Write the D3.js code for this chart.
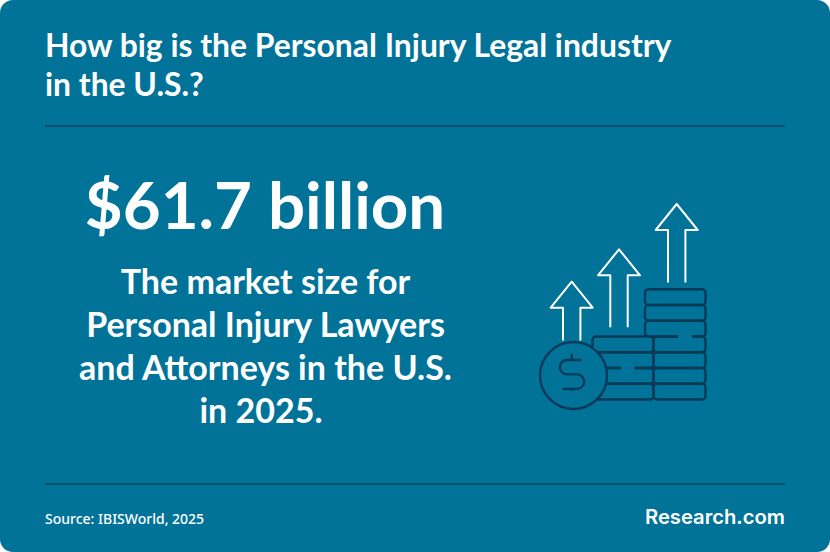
<!DOCTYPE html>
<html>
<head>
<meta charset="utf-8">
<script src="https://cdn.jsdelivr.net/npm/d3@7"></script>
<style>
  html, body { margin: 0; padding: 0; background: #fff; }
  svg { display: block; }
  text { fill: #fff; }
</style>
</head>
<body>
<div id="chart"></div>
<script>
const titleLines = ["How big is the Personal Injury Legal industry", "in the U.S.?"];
const headline = "$61.7 billion";
const subLines = ["The market size for", "Personal Injury Lawyers", "and Attorneys in the U.S.", "in 2025."];
const sourceText = "Source: IBISWorld, 2025";
const brandText = "Research.com";

// coin stacks of the icon: how many coins in each
const stackNames = ["left", "right"];
const stackCoins = [4, 7];
const arrowNames = ["a", "b", "c"];

const width = 830, height = 552;
const bg = "#017399", rule = "#0b4f6c", dark = "#083a57";

const svg = d3.select("#chart").append("svg")
    .attr("width", width)
    .attr("height", height);

svg.append("rect")
    .attr("width", width)
    .attr("height", height)
    .attr("rx", 13)
    .attr("fill", bg);

// header and footer rules
svg.selectAll(".rule")
    .data([126, 484])
    .enter().append("line")
    .attr("class", "rule")
    .attr("x1", 45).attr("x2", 785)
    .attr("y1", d => d).attr("y2", d => d)
    .attr("stroke", rule)
    .attr("stroke-width", 2);

const font = "Lato, sans-serif";

svg.selectAll(".title")
    .data(titleLines)
    .enter().append("text")
    .attr("class", "title")
    .attr("x", 45)
    .attr("y", (d, i) => 57 + i * 39)
    .style("font", "700 31.85px " + font)
    .text(d => d);

svg.append("text")
    .attr("x", 265)
    .attr("y", 229)
    .attr("text-anchor", "middle")
    .style("font", "700 65.4px " + font)
    .text(headline);

// last line sits a little left of centre in the original
svg.selectAll(".sub")
    .data(subLines)
    .enter().append("text")
    .attr("class", "sub")
    .attr("x", (d, i) => i === 3 ? 261 : 265.5)
    .attr("y", (d, i) => 293.5 + i * 43)
    .attr("text-anchor", "middle")
    .style("font", "700 34px " + font)
    .text(d => d);

svg.append("text")
    .attr("x", 45)
    .attr("y", 524)
    .style("font", "500 14px 'Noto Sans', sans-serif")
    .text(sourceText);

svg.append("text")
    .attr("x", 785)
    .attr("y", 524)
    .attr("text-anchor", "end")
    .style("font", "600 20.2px Inter, sans-serif")
    .text(brandText);

// icon
const icon = svg.append("g");
const coinH = 15.75, baseY = 399.5;
const stackX = d3.scaleOrdinal().domain(stackNames).range([592.5, 645]);
const stackEnd = d3.scaleOrdinal().domain(stackNames).range([653.5, 705.5]);

stackNames.forEach((name, s) => {
    d3.range(stackCoins[s]).forEach(i => {
        // lower coins of the right stack sit behind the left stack
        const x0 = name === "right" && i < stackCoins[0] ? stackEnd("left") : stackX(name);
        icon.append("rect")
            .attr("x", x0)
            .attr("y", baseY - (i + 1) * coinH)
            .attr("width", stackEnd(name) - x0)
            .attr("height", coinH)
            .attr("rx", 3.5)
            .attr("fill", "none")
            .attr("stroke", dark)
            .attr("stroke-width", 2.3);
    });
});

// gaps in the coin edges
icon.append("rect").attr("x", 678).attr("y", 335).attr("width", 14).attr("height", 4).attr("fill", bg);
icon.append("rect").attr("x", 621).attr("y", 366).attr("width", 13.5).attr("height", 4).attr("fill", bg);

icon.append("circle")
    .attr("cx", 573.5)
    .attr("cy", 375.5)
    .attr("r", 33.5)
    .attr("fill", bg)
    .attr("stroke", dark)
    .attr("stroke-width", 2.3);

icon.append("path")
    .attr("d", "M581.5 360H567a7.2 7.2 0 0 0 0 14.4H577a7.2 7.2 0 0 1 0 14.4H562.5M571.8 353.5V360M571.8 389V391")
    .attr("fill", "none")
    .attr("stroke", dark)
    .attr("stroke-width", 2.3);

// arrows step up to the right
const arrowX = d3.scaleOrdinal().domain(arrowNames).range([571.7, 619, 676.7]);
const arrowTip = d3.scaleOrdinal().domain(arrowNames).range([281.7, 249.3, 204]);
const arrowEnd = d3.scaleOrdinal().domain(arrowNames).range([340.5, 327.3, 282.5]);

const arrowLine = d3.line();
arrowNames.forEach(name => {
    const x = arrowX(name), tip = arrowTip(name), end = arrowEnd(name);
    icon.append("path")
        .attr("d", arrowLine([
            [x - 8.7, end], [x - 8.7, tip + 26], [x - 21, tip + 26], [x, tip],
            [x + 21, tip + 26], [x + 8.7, tip + 26], [x + 8.7, end]
        ]))
        .attr("fill", "none")
        .attr("stroke", "#fff")
        .attr("stroke-width", 2)
        .attr("stroke-linejoin", "round");
});
</script>
</body>
</html>
